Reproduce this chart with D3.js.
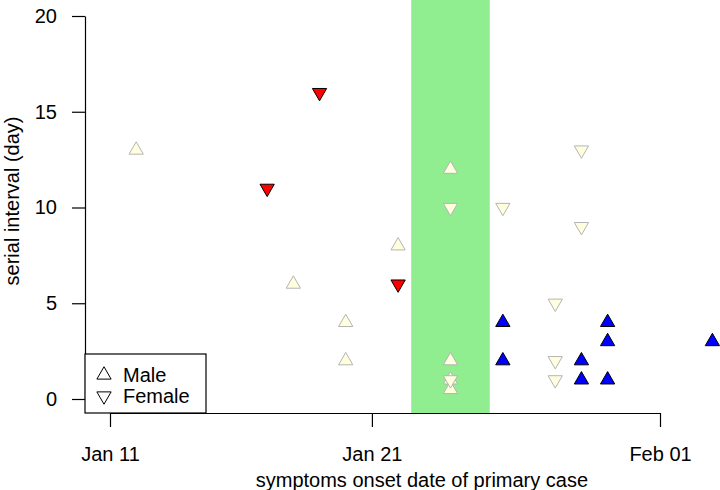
<!DOCTYPE html>
<html>
<head>
<meta charset="utf-8">
<script src="https://cdn.jsdelivr.net/npm/d3@7"></script>
<style>
  body { margin: 0; background: #fff; }
  text { font-family: "Liberation Sans", Arial, sans-serif; fill: #000; }
</style>
</head>
<body>
<div id="chart"></div>
<script>
// onset date of primary case, serial interval, sex of case, colour group
var onsetDates = ["2020-01-12", "2020-01-18", "2020-01-20", "2020-01-20", "2020-01-22",
  "2020-01-24", "2020-01-24", "2020-01-24", "2020-01-24", "2020-01-26", "2020-01-26",
  "2020-01-29", "2020-01-29", "2020-01-30", "2020-01-30", "2020-01-30", "2020-02-03",
  "2020-01-17", "2020-01-19", "2020-01-22", "2020-01-24", "2020-01-24", "2020-01-26",
  "2020-01-28", "2020-01-28", "2020-01-28", "2020-01-29", "2020-01-29"];
var intervals = [13, 6, 4, 2, 8,
  12, 2, 1, 0.5, 4, 2,
  2, 1, 4, 3, 1, 3,
  11, 16, 6, 10, 1, 10,
  5, 2, 1, 13, 9];
var sexes = ["M", "M", "M", "M", "M",
  "M", "M", "M", "M", "M", "M",
  "M", "M", "M", "M", "M", "M",
  "F", "F", "F", "F", "F", "F",
  "F", "F", "F", "F", "F"];
var groups = ["other", "other", "other", "other", "other",
  "other", "other", "other", "other", "late", "late",
  "late", "late", "late", "late", "late", "late",
  "early", "early", "early", "other", "other", "other",
  "other", "other", "other", "other", "other"];

var xTicks = ["2020-01-11", "2020-01-21", "2020-02-01"];
var yTicks = [0, 5, 10, 15, 20];
var bandDates = ["2020-01-22T12:00", "2020-01-25T12:00"];
var legendLabels = ["Male", "Female"];

var svgWidth = 720;
var svgHeight = 490;

var parseDate = d3.isoParse;

var svg = d3.select("#chart")
  .append("svg")
  .attr("width", svgWidth)
  .attr("height", svgHeight);

// scales
var xScale = d3.scaleTime()
  .domain([parseDate(xTicks[0]), parseDate(xTicks[2])])
  .range([110, 660]);

var yScale = d3.scaleLinear()
  .domain([0, 20])
  .range([399, 16]);

var axisY = 413;
var axisX = 85;

var fills = { other: "#FFFFE0", early: "#FF0000", late: "#0000FF" };
var strokes = { other: "#B4B4B4", early: "#000", late: "#000" };

// green band
svg.append("rect")
  .attr("x", xScale(parseDate(bandDates[0])))
  .attr("y", 0)
  .attr("width", xScale(parseDate(bandDates[1])) - xScale(parseDate(bandDates[0])))
  .attr("height", axisY)
  .attr("fill", "#90EE90");

// triangle like R's pch 24 / 25, centroid on the point
var r0 = 5.3;
function triPath(up) {
  var s = up ? 1 : -1;
  var top = 1.555 * r0, half = 1.347 * r0, bot = 0.778 * r0;
  return "M0," + (-s * top) + "L" + half + "," + (s * bot) + "L" + (-half) + "," + (s * bot) + "Z";
}

var data = onsetDates.map(function(d, i) {
  return { date: parseDate(d), value: intervals[i], sex: sexes[i], group: groups[i] };
});

svg.append("g")
  .selectAll("path")
  .data(data)
  .enter()
  .append("path")
  .attr("transform", d => `translate(${xScale(d.date)}, ${yScale(d.value)})`)
  .attr("d", d => triPath(d.sex === "M"))
  .attr("fill", d => fills[d.group])
  .attr("stroke", d => strokes[d.group])
  .attr("stroke-width", 1);

// axes
var bottomAxis = d3.axisBottom(xScale)
  .tickValues(xTicks.map(parseDate))
  .tickFormat(d3.timeFormat("%b %d"))
  .tickSize(14)
  .tickSizeOuter(0)
  .tickPadding(20);

var xAxis = svg.append("g")
  .attr("transform", `translate(0, ${axisY})`)
  .call(bottomAxis);

var leftAxis = d3.axisLeft(yScale)
  .tickValues(yTicks)
  .tickSize(13)
  .tickSizeOuter(0)
  .tickPadding(15);

var yAxis = svg.append("g")
  .attr("transform", `translate(${axisX}, 0)`)
  .call(leftAxis);

svg.selectAll(".domain, .tick line").attr("stroke", "#000").attr("stroke-width", 1.2);
svg.selectAll(".tick text").attr("font-size", "20px").attr("font-family", "Liberation Sans, Arial, sans-serif");

// axis titles
svg.append("text")
  .attr("x", xScale(parseDate(xTicks[1])) + 50)
  .attr("y", 487)
  .attr("text-anchor", "middle")
  .attr("font-size", "20px")
  .text("symptoms onset date of primary case");

svg.append("text")
  .attr("transform", "translate(19, 201) rotate(-90)")
  .attr("text-anchor", "middle")
  .attr("font-size", "20px")
  .text("serial interval (day)");

// legend
var legend = svg.append("g");

legend.append("rect")
  .attr("x", axisX)
  .attr("y", 354)
  .attr("width", 121)
  .attr("height", axisY - 354)
  .attr("fill", "#fff")
  .attr("stroke", "#000")
  .attr("stroke-width", 1.2);

legendLabels.forEach(function(lab, i) {
  var ly = 375 + i * 21;
  legend.append("path")
    .attr("transform", `translate(104, ${ly})`)
    .attr("d", triPath(i === 0))
    .attr("fill", "none")
    .attr("stroke", "#000")
    .attr("stroke-width", 1);
  legend.append("text")
    .attr("x", 123)
    .attr("y", ly + 7)
    .attr("font-size", "20px")
    .text(lab);
});
</script>
</body>
</html>
